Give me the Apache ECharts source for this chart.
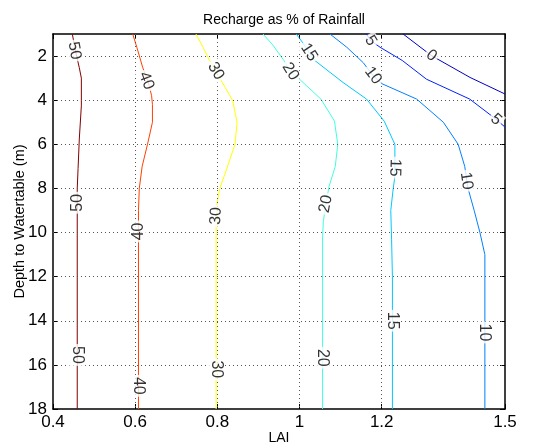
<!DOCTYPE html>
<html>
<head>
<meta charset="utf-8">
<script src="https://cdn.jsdelivr.net/npm/echarts@6/dist/echarts.min.js"></script>
<style>html,body{margin:0;padding:0;background:#fff}#c{width:550px;height:445px}</style>
</head>
<body>
<div id="c"></div>
<script>
// ---- data ----
const xTicks = [0.4, 0.6, 0.8, 1, 1.2, 1.5];
const yTicks = [2, 4, 6, 8, 10, 12, 14, 16, 18];
const levels = [0, 5, 10, 15, 20, 30, 40, 50];

const line0  = [[1.252,1.0],[1.321,1.98],[1.415,2.97],[1.5,3.72]];
const line5  = [[1.163,1.0],[1.173,1.3],[1.196,1.6],[1.25,2.2],[1.309,3.05],[1.414,3.95],[1.478,4.86],[1.5,5.22]];
const line10 = [[1.074,1.0],[1.115,1.6],[1.155,2.3],[1.179,2.89],[1.2,3.25],[1.285,3.95],[1.35,5.0],[1.386,6.0],[1.402,7.0],[1.41,8.0],[1.425,9.0],[1.439,10.0],[1.451,11.0],[1.451,18]];
const line15 = [[0.992,1.0],[1.008,1.4],[1.023,1.83],[1.037,2.2],[1.106,3.2],[1.163,3.95],[1.206,4.95],[1.232,6.0],[1.232,7.0],[1.231,7.6],[1.228,8.0],[1.222,9.0],[1.224,10.3],[1.226,12],[1.226,18]];
const line20 = [[0.911,1.0],[0.935,1.5],[0.962,2.2],[0.980,2.75],[1.0,3.05],[1.052,3.95],[1.085,4.95],[1.093,6.0],[1.087,7.0],[1.072,7.9],[1.064,8.7],[1.058,9.5],[1.056,10.2],[1.056,18]];
const line30 = [[0.748,1.0],[0.765,1.6],[0.781,2.2],[0.797,2.7],[0.812,3.2],[0.837,4.0],[0.848,5.0],[0.843,6.0],[0.823,7.1],[0.806,8.0],[0.799,8.7],[0.797,9.5],[0.797,18]];
const line40 = [[0.594,1.0],[0.604,1.6],[0.618,2.5],[0.632,3.2],[0.640,3.8],[0.642,4.2],[0.642,5.0],[0.630,6.0],[0.617,7.0],[0.610,8.0],[0.608,9.0],[0.608,18]];
const line50 = [[0.447,1.0],[0.455,1.8],[0.464,2.53],[0.469,3.0],[0.469,4.26],[0.464,5.76],[0.461,7.1],[0.459,8.0],[0.459,18]];

// contour label anchors: [x, y, reading direction (+1 up, -1 down)]
const labels0  = [[1.321,1.98,-1]];
const labels5  = [[1.173,1.3,-1],[1.478,4.88,-1]];
const labels10 = [[1.179,2.89,-1],[1.406,7.66,-1],[1.451,14.53,-1]];
const labels15 = [[1.023,1.83,-1],[1.232,7.06,-1],[1.226,14.0,-1]];
const labels20 = [[0.978,2.7,-1],[1.064,8.7,1],[1.056,15.68,-1]];
const labels30 = [[0.796,2.68,-1],[0.797,9.25,1],[0.797,16.2,-1]];
const labels40 = [[0.627,3.12,-1],[0.608,9.95,1],[0.608,16.95,-1]];
const labels50 = [[0.452,1.76,-1],[0.459,8.65,1],[0.459,15.55,-1]];

// ---- styling ----
const lines  = [line0, line5, line10, line15, line20, line30, line40, line50];
const labelSets = [labels0, labels5, labels10, labels15, labels20, labels30, labels40, labels50];
const colors = ['#0000BF', '#0020FF', '#0080FF', '#00C8FF', '#40FFE0', '#FFFF00', '#FF4000', '#800000'];
const FONT = "'Liberation Sans', Arial, Helvetica, sans-serif";

const xMin = xTicks[0], xMax = xTicks[xTicks.length - 1];
const yMin = 1, yMax = yTicks[yTicks.length - 1];
const gridXs = xTicks.filter(v => v > xMin && v < xMax);
const gridYs = yTicks.filter(v => v > yMin && v < yMax);

const chart = echarts.init(document.getElementById('c'), null, {renderer: 'canvas'});

const axisLineStyle = {color: '#000', width: 1.5};
function xAx(pos, labels) {
  return {
    type: 'value', position: pos, min: xMin, max: xMax,
    axisLine: {show: true, onZero: false, lineStyle: axisLineStyle},
    axisTick: {show: true, inside: true, length: 5, customValues: xTicks, lineStyle: {color: '#000'}},
    axisLabel: {show: labels, customValues: xTicks, fontSize: 17, color: '#000', fontFamily: FONT, margin: 5},
    splitLine: {show: false},
    name: labels ? 'LAI' : '', nameLocation: 'middle', nameGap: 22, nameMoveOverlap: false,
    nameTextStyle: {fontSize: 14, color: '#000', fontFamily: FONT}
  };
}
function yAx(pos, labels) {
  return {
    type: 'value', position: pos, min: yMin, max: yMax, inverse: true,
    axisLine: {show: true, onZero: false, lineStyle: axisLineStyle},
    axisTick: {show: true, inside: true, length: 5, customValues: yTicks, lineStyle: {color: '#000'}},
    axisLabel: {show: labels, customValues: yTicks, fontSize: 17, color: '#000', fontFamily: FONT, margin: 6},
    splitLine: {show: false},
    name: labels ? 'Depth to Watertable (m)' : '', nameLocation: 'middle', nameGap: 26, nameRotate: 90,
    nameMoveOverlap: false,
    nameTextStyle: {fontSize: 14.5, color: '#000', fontFamily: FONT}
  };
}

const gridMarks = gridXs.map(v => ({xAxis: v})).concat(gridYs.map(v => ({yAxis: v})));

const series = [{
  type: 'line', data: [[xMin, yMin]], showSymbol: false, symbol: 'none', silent: true, z: 1,
  lineStyle: {opacity: 0},
  markLine: {
    silent: true, symbol: ['none', 'none'], label: {show: false}, animation: false,
    lineStyle: {color: '#555', width: 1, type: [1, 3]},
    data: gridMarks
  }
}];
lines.forEach((ln, i) => {
  series.push({
    type: 'line', name: String(levels[i]), data: ln, showSymbol: false, symbol: 'none',
    lineStyle: {color: colors[i], width: 1}, z: 2, silent: true, clip: true
  });
});
series.push({
  type: 'scatter', id: 'labels', data: [], z: 5, symbolSize: 1, silent: true,
  itemStyle: {color: 'rgba(0,0,0,0)'}
});

chart.setOption({
  animation: false,
  backgroundColor: '#fff',
  title: {
    text: 'Recharge as % of Rainfall', left: 279, top: 8, textAlign: 'center',
    textStyle: {fontSize: 14, fontWeight: 'normal', color: '#000', fontFamily: FONT}
  },
  grid: {left: 53, right: 45, top: 34, bottom: 36, containLabel: false, outerBoundsMode: 'none'},
  xAxis: [xAx('bottom', true), xAx('top', false)],
  yAxis: [yAx('left', true), yAx('right', false)],
  series: series
});

// compute label rotation from the contour line direction in pixel space
function px(p) { return chart.convertToPixel({gridIndex: 0}, [p[0], p[1]]); }
function segDist(p, a, b) {
  const dx = b[0] - a[0], dy = b[1] - a[1];
  const L = dx * dx + dy * dy;
  let t = L ? ((p[0] - a[0]) * dx + (p[1] - a[1]) * dy) / L : 0;
  t = Math.max(0, Math.min(1, t));
  const qx = a[0] + t * dx, qy = a[1] + t * dy;
  return Math.hypot(p[0] - qx, p[1] - qy);
}
const labelData = [];
labelSets.forEach((set, i) => {
  const pts = lines[i].map(px);
  set.forEach(lb => {
    const p = px(lb);
    let best = 1e9, ang = 0;
    for (let k = 0; k < pts.length - 1; k++) {
      const d = segDist(p, pts[k], pts[k + 1]);
      if (d < best) {
        best = d;
        ang = Math.atan2(-(pts[k + 1][1] - pts[k][1]), pts[k + 1][0] - pts[k][0]) * 180 / Math.PI;
      }
    }
    if (ang > 90) ang -= 180;
    if (ang <= -90) ang += 180;
    if (lb[2] < 0 && ang > 60) ang -= 180;
    if (lb[2] > 0 && ang < -60) ang += 180;
    labelData.push({
      value: [lb[0], lb[1]],
      label: {
        show: true, position: 'inside', formatter: String(levels[i]), rotate: ang,
        align: 'center', verticalAlign: 'middle',
        fontSize: 16, color: '#000', fontFamily: FONT,
        backgroundColor: '#fff', padding: [0, 2]
      }
    });
  });
});
chart.setOption({series: [{id: 'labels', data: labelData}]});
</script>
</body>
</html>
